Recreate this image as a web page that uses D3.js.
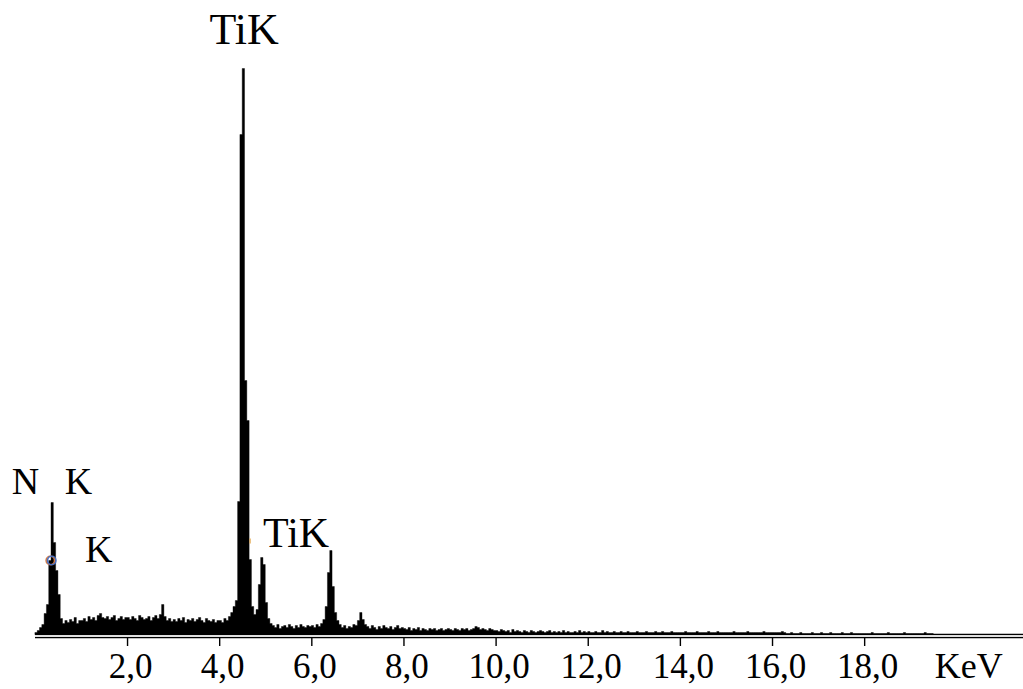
<!DOCTYPE html>
<html>
<head>
<meta charset="utf-8">
<script src="https://cdn.jsdelivr.net/npm/d3@7"></script>
<style>
  html, body { margin: 0; padding: 0; background: #fff; }
  svg { display: block; }
</style>
</head>
<body>
<svg id="chart" width="1023" height="689"></svg>
<script>
// ---- data -------------------------------------------------------------
// channel width (keV) and spectrum counts per channel, 0 - 20 keV
const channelWidth = 0.05;
const counts = [
  // 0.0 - 0.95 keV
  2,4,7,10,21,30,74,132,92,64,40,16,11,14,12,15,13,17,11,14,
  // 1.0 - 1.95
  14,16,13,18,15,17,14,19,21,17,16,18,15,17,19,14,16,18,15,17,
  // 2.0 - 2.95
  17,15,18,16,14,19,17,15,16,18,14,17,19,16,20,30,18,14,16,13,
  // 3.0 - 3.95
  15,13,16,14,17,12,15,14,16,13,15,17,14,12,16,14,13,15,12,14,
  // 4.0 - 4.95
  14,12,16,14,18,22,28,34,133,500,566,254,214,75,28,20,25,50,77,70,
  // 5.0 - 5.95
  32,16,11,9,7,10,6,8,9,7,10,8,6,9,7,10,8,7,9,8,
  // 6.0 - 6.95
  9,7,10,8,11,15,28,62,84,48,22,14,10,7,9,6,8,7,10,9,
  // 7.0 - 7.95
  14,22,15,10,8,6,9,7,5,8,6,9,7,6,8,5,7,9,6,7,
  // 8.0 - 8.95
  6,5,7,4,6,5,7,4,6,5,4,6,5,6,4,5,6,4,5,6,
  // 9.0 - 9.95
  5,4,6,5,4,6,5,6,4,5,6,8,7,5,6,5,4,6,5,4,
  // 10.0 - 10.95
  4,3,5,4,3,4,2,5,3,4,3,2,4,3,2,4,3,2,3,4,
  // 11.0 - 11.95
  3,2,3,4,2,3,2,3,2,4,2,3,2,2,3,2,4,2,3,2,
  // 12.0 - 12.95
  3,2,2,3,2,2,4,2,3,2,2,3,2,2,3,2,2,3,2,2,
  // 13.0 - 13.95
  2,3,2,2,2,3,2,2,2,3,2,2,3,2,2,2,3,2,2,2,
  // 14.0 - 14.95
  2,2,3,2,2,2,2,3,2,2,2,2,3,2,2,2,3,2,2,2,
  // 15.0 - 15.95
  2,2,2,3,2,2,2,2,2,3,2,2,2,2,2,2,3,2,2,2,
  // 16.0 - 16.95
  2,2,2,2,3,2,1,1,2,1,1,1,2,1,1,1,1,2,1,1,
  // 17.0 - 17.95
  1,2,1,1,1,2,1,1,1,1,2,1,1,1,2,1,1,1,1,1,
  // 18.0 - 18.95
  1,1,1,2,1,1,1,1,1,1,2,1,1,1,1,1,1,2,1,1,
  // 19.0 - 19.95
  1,1,1,1,1,1,2,1,1,1,0,0,0,0,0,0,0,0,0,0
];
const tickValues = [2, 4, 6, 8, 10, 12, 14, 16, 18];
const tickLabels = ["2,0", "4,0", "6,0", "8,0", "10,0", "12,0", "14,0", "16,0", "18,0"];
const axisUnit = "KeV";
// peak annotations: [text, energy keV, count level]
const peakLabels = [
  { text: "TiK", e: 4.54, c: 591 },
  { text: "TiK", e: 5.67, c: 88 },
  { text: "N",   e: -0.50, c: 141, anchor: "start" },
  { text: "K",   e: 0.65, c: 141, anchor: "start" },
  { text: "K",   e: 1.09, c: 73, anchor: "start" }
];

// ---- layout -----------------------------------------------------------
const svg = d3.select("#chart");
const W = 1023, H = 689;
const x = d3.scaleLinear().domain([0, 20]).range([34.9, 34.9 + 46.07 * 20]);
const y = d3.scaleLinear().domain([0, 600]).range([634.5, 34.5]);

const pts = counts.map((c, i) => ({ e: i * channelWidth, c }));
pts.push({ e: counts.length * channelWidth, c: 0 });

// spectrum
svg.append("path")
  .datum(pts)
  .attr("fill", "#000")
  .attr("stroke", "#000")
  .attr("stroke-width", 0.4)
  .attr("d", d3.area()
    .x(d => x(d.e))
    .y0(y(0))
    .y1(d => y(d.c))
    .curve(d3.curveStepAfter));

// double axis line
[634.5, 637.5].forEach(yy => {
  svg.append("line")
    .attr("x1", 35).attr("x2", W)
    .attr("y1", yy).attr("y2", yy)
    .attr("stroke", "#000").attr("stroke-width", 1.3);
});
svg.append("rect")
  .attr("x", 35).attr("y", 635.2).attr("width", W - 35).attr("height", 1.6)
  .attr("fill", "#e6e6e6");

// ticks and labels via d3 axis
const axisG = svg.append("g")
  .attr("transform", "translate(0,637.5)")
  .call(d3.axisBottom(x)
    .tickValues(tickValues)
    .tickSize(8.5)
    .tickFormat((d, i) => tickLabels[i]));
axisG.select(".domain").remove();
axisG.selectAll(".tick line").attr("stroke", "#000").attr("stroke-width", 1.4);
axisG.selectAll(".tick text")
  .attr("y", 40)
  .attr("dy", 0)
  .attr("x", 3)
  .attr("fill", "#000")
  .style("font-family", "'Liberation Serif', 'Times New Roman', serif")
  .style("font-size", "35px");

svg.append("text")
  .attr("x", x(20.27))
  .attr("y", 677.5)
  .attr("text-anchor", "middle")
  .style("font-family", "'Liberation Serif', 'Times New Roman', serif")
  .style("font-size", "36px")
  .text(axisUnit);

// peak labels
svg.selectAll("text.peak")
  .data(peakLabels)
  .enter().append("text")
  .attr("class", "peak")
  .attr("x", d => x(d.e))
  .attr("y", d => y(d.c))
  .attr("text-anchor", d => d.anchor || "middle")
  .style("font-family", "'Liberation Serif', 'Times New Roman', serif")
  .style("font-size", (d, i) => i === 0 ? "44px" : (i === 1 ? "42px" : "38px"))
  .attr("fill", "#000")
  .text(d => d.text);

// small marker ring on the N K peak
svg.append("circle")
  .attr("cx", x(0.35) - 0.7).attr("cy", y(74))
  .attr("r", 4.2).attr("fill", "none")
  .attr("stroke", "#d07a45").attr("stroke-width", 1.6);
svg.append("circle")
  .attr("cx", x(0.35) + 0.7).attr("cy", y(74))
  .attr("r", 4.2).attr("fill", "none")
  .attr("stroke", "#4a6fc0").attr("stroke-width", 1.6);

// small orange mark right of the main peak
svg.append("line")
  .attr("x1", x(4.67)).attr("x2", x(4.67))
  .attr("y1", y(96)).attr("y2", y(91))
  .attr("stroke", "#e0a040").attr("stroke-width", 1.2);
</script>
</body>
</html>
